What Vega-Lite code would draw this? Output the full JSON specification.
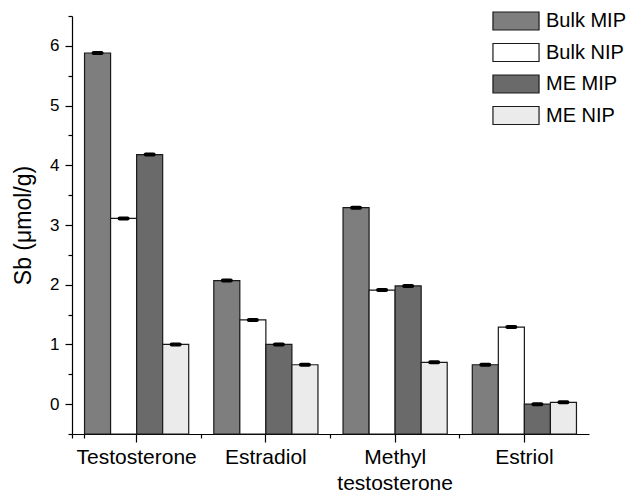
{
  "$schema": "https://vega.github.io/schema/vega-lite/v6.json",
  "autosize": {"type": "none"},
  "padding": {"left": 72, "top": 16, "right": 44, "bottom": 62},
  "width": 517,
  "height": 418,
  "background": "white",
  "config": {
    "font": "Liberation Sans",
    "view": {"stroke": null},
    "axis": {"domainColor": "black", "tickColor": "black", "labelColor": "black", "titleColor": "black", "grid": false}
  },
  "data": {
    "values": [
      {"compound": "Testosterone", "series": "Bulk MIP", "value": 5.88},
      {"compound": "Testosterone", "series": "Bulk NIP", "value": 3.11},
      {"compound": "Testosterone", "series": "ME MIP", "value": 4.18},
      {"compound": "Testosterone", "series": "ME NIP", "value": 1.0},
      {"compound": "Estradiol", "series": "Bulk MIP", "value": 2.07},
      {"compound": "Estradiol", "series": "Bulk NIP", "value": 1.41},
      {"compound": "Estradiol", "series": "ME MIP", "value": 1.0},
      {"compound": "Estradiol", "series": "ME NIP", "value": 0.66},
      {"compound": "Methyl testosterone", "series": "Bulk MIP", "value": 3.29},
      {"compound": "Methyl testosterone", "series": "Bulk NIP", "value": 1.91},
      {"compound": "Methyl testosterone", "series": "ME MIP", "value": 1.98},
      {"compound": "Methyl testosterone", "series": "ME NIP", "value": 0.7},
      {"compound": "Estriol", "series": "Bulk MIP", "value": 0.66},
      {"compound": "Estriol", "series": "Bulk NIP", "value": 1.29},
      {"compound": "Estriol", "series": "ME MIP", "value": 0.0},
      {"compound": "Estriol", "series": "ME NIP", "value": 0.03}
    ]
  },
  "encoding": {
    "x": {
      "field": "compound", "type": "nominal",
      "sort": ["Testosterone", "Estradiol", "Methyl testosterone", "Estriol"],
      "scale": {"paddingInner": 0.194, "paddingOuter": 0.097}
    },
    "xOffset": {"field": "series", "type": "nominal", "sort": ["Bulk MIP", "Bulk NIP", "ME MIP", "ME NIP"], "scale": {"paddingInner": 0, "paddingOuter": 0}},
    "y": {
      "field": "value", "type": "quantitative",
      "scale": {"domain": [-0.5, 6.5], "zero": false, "nice": false}
    }
  },
  "layer": [
    {
      "mark": {"type": "bar", "stroke": "#1a1a1a", "strokeWidth": 1.2},
      "encoding": {
        "y2": {"datum": -0.5},
        "x": {
          "field": "compound", "type": "nominal",
          "sort": ["Testosterone", "Estradiol", "Methyl testosterone", "Estriol"],
          "axis": {
            "title": null, "orient": "bottom", "labelAngle": 0, "labelFontSize": 21, "tickSize": 8, "labelPadding": 4,
            "domainWidth": 1.2, "tickWidth": 1.2, "labelLineHeight": 26,
            "labelExpr": "datum.label == 'Methyl testosterone' ? ['Methyl', 'testosterone'] : datum.label"
          }
        },
        "y": {
          "field": "value", "type": "quantitative",
          "axis": {
            "title": "Sb (μmol/g)", "orient": "left", "titleFontSize": 23, "titleFontWeight": "normal", "titlePadding": 14,
            "values": [0, 1, 2, 3, 4, 5, 6],
            "tickSize": 7, "labelFontSize": 17, "labelPadding": 6, "domainWidth": 1.2, "tickWidth": 1.2
          }
        },
        "fill": {
          "field": "series", "type": "nominal",
          "scale": {"domain": ["Bulk MIP", "Bulk NIP", "ME MIP", "ME NIP"], "range": ["#7e7e7e", "#ffffff", "#6a6a6a", "#ebebeb"]},
          "legend": {
            "title": null, "orient": "none", "legendX": 434, "legendY": -5,
            "symbolType": "M-2.56,-1H2.56V1H-2.56Z", "symbolSize": 324,
            "symbolStrokeColor": "#1a1a1a", "symbolStrokeWidth": 1.2,
            "labelFontSize": 20, "labelColor": "black", "labelOffset": 20, "rowPadding": 7.5
          }
        }
      }
    },
    {
      "mark": {"type": "tick", "color": "black", "size": 12, "thickness": 4, "cornerRadius": 2, "opacity": 1},
      "encoding": {
        "x": {
          "field": "compound", "type": "nominal",
          "sort": ["Testosterone", "Estradiol", "Methyl testosterone", "Estriol"],
          "axis": {"title": null, "orient": "bottom", "labels": false, "domain": false, "bandPosition": -0.12, "tickExtra": true, "tickSize": 4, "tickWidth": 1.2}
        },
        "y": {
          "field": "value", "type": "quantitative",
          "axis": {
            "title": null, "orient": "left", "labels": false, "domain": false,
            "values": [-0.5, 0.5, 1.5, 2.5, 3.5, 4.5, 5.5, 6.5],
            "tickSize": 4, "tickWidth": 1.2
          }
        }
      }
    }
  ],
  "resolve": {"axis": {"x": "independent", "y": "independent"}}
}
